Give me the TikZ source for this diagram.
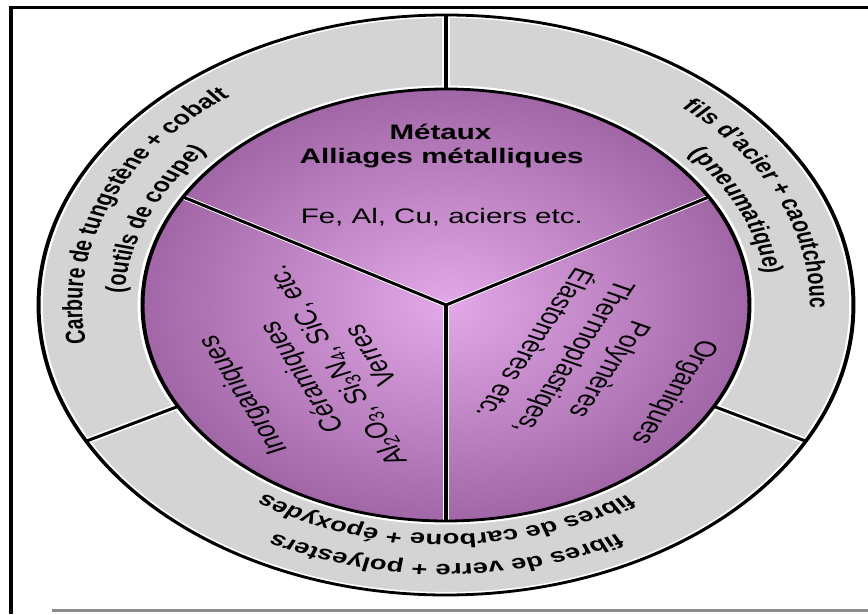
\documentclass[tikz,border=0pt]{standalone}
\usepackage{fontspec}
\setmainfont{Liberation Sans}
\usetikzlibrary{decorations.text}
\definecolor{ringgray}{RGB}{212,212,212}
\definecolor{purpL}{RGB}{226,168,232}
\definecolor{purpD}{RGB}{160,102,166}
\definecolor{framegray}{RGB}{140,140,140}
\newcommand{\ringfont}{\bfseries\fontsize{19.5}{20}\selectfont}
\begin{document}
\begin{tikzpicture}[x=1pt,y=1pt,
  blackline/.style={line width=2.8pt, black},
  whitehalo/.style={line width=6pt, white},
  toptitle/.style={font=\bfseries\fontsize{21}{24}\selectfont, inner sep=0pt},
  topitem/.style={font=\fontsize{21}{24}\selectfont, inner sep=0pt},
  secttext/.style={font=\fontsize{22}{24}\selectfont, inner sep=0pt},
  ringlabel/.style={decorate, decoration={text along path, text align=center, text={#1}}}]
\useasboundingbox (0,0) rectangle (868,614);
\fill[white] (0,0) rectangle (868,614);
% frame
\draw[line width=3.5pt, line join=miter] (11,0) -- (11,606.5) -- (868,606.5);
\draw[framegray, line width=3pt] (52,3.5) -- (868,3.5);
\begin{scope}[transform canvas={shift={(446pt,309pt)}, xscale=1.405}]
  \coordinate (O) at (0,0);
  \coordinate (y1) at (150:216);
  \coordinate (y2) at (30:216);
  \coordinate (y3) at (270:216);
  \coordinate (r1a) at (90:216);  \coordinate (r1b) at (90:290);
  \coordinate (r2a) at (208:216); \coordinate (r2b) at (208:290);
  \coordinate (r3a) at (332:216); \coordinate (r3b) at (332:290);
  % ring
  \fill[ringgray] (O) circle[radius=290];
  \draw[whitehalo] (r1a) -- (r1b);
  \draw[whitehalo] (r2a) -- (r2b);
  \draw[whitehalo] (r3a) -- (r3b);
  \draw[white, line width=7pt] (O) circle[radius=216];
  \draw[whitehalo] (O) circle[radius=290];
  % inner disk
  \shade[inner color=purpL, outer color=purpD] (O) circle[radius=216];
  \draw[white, line width=4.5pt] (O) -- (y1);
  \draw[white, line width=4.5pt] (O) -- (y2);
  \draw[white, line width=4.5pt] (O) -- (y3);
  \draw[blackline, line join=miter] (y1) -- (O) -- (y2);
  \draw[blackline] (O) -- (y3);
  \draw[blackline] (O) circle[radius=216];
  \draw[blackline] (r1a) -- (r1b);
  \draw[blackline] (r2a) -- (r2b);
  \draw[blackline] (r3a) -- (r3b);
  \draw[blackline] (O) circle[radius=290];
  % top sector
  \node[toptitle] (met) at (-4,173) {Métaux};
  \node[toptitle] (all) at (-3,147) {Alliages métalliques};
  \node[topitem] (fe) at (-3,88) {Fe, Al, Cu, aciers etc.};
  % left sector
  \node[secttext, rotate=114] (inorg) at (-143.7,-90.2) {Inorganiques};
  \node[secttext, rotate=114] (ceram) at (-101.7,-71.5) {Céramiques};
  \node[secttext, rotate=114] (alo) at (-77,-60.5) {Al\textsubscript{2}O\textsubscript{3}, Si\textsubscript{3}N\textsubscript{4}, SiC, etc.};
  \node[secttext, rotate=114] (verres) at (-54.2,-50.4) {Verres};
  % right sector
  \node[secttext, rotate=244] (org) at (162.3,-87) {Organiques};
  \node[secttext, rotate=244] (poly) at (115.6,-64.2) {Polymères};
  \node[secttext, rotate=244] (thermo) at (90.4,-51.9) {Thermoplastiqes,};
  \node[secttext, rotate=244] (elast) at (65.2,-39.6) {Élastomères etc.};
  % ring texts
  \path[ringlabel={|\ringfont|Carbure de tungstène + cobalt}] (207.5:259) arc[start angle=207.5, end angle=107.5, radius=259];
  \path[ringlabel={|\ringfont|(outils de coupe)}] (207.5:229) arc[start angle=207.5, end angle=107.5, radius=229];
  \path[ringlabel={|\ringfont|fils d'acier + caoutchouc}] (74.5:259) arc[start angle=74.5, end angle=-25.5, radius=259];
  \path[ringlabel={|\ringfont|(pneumatique)}] (74.5:229) arc[start angle=74.5, end angle=-25.5, radius=229];
  \path[ringlabel={|\ringfont|fibres de verre + polyesters}] (320:259) arc[start angle=320, end angle=220, radius=259];
  \path[ringlabel={|\ringfont|fibres de carbone + époxydes}] (320:229) arc[start angle=320, end angle=220, radius=229];
\end{scope}
\end{tikzpicture}
\end{document}
